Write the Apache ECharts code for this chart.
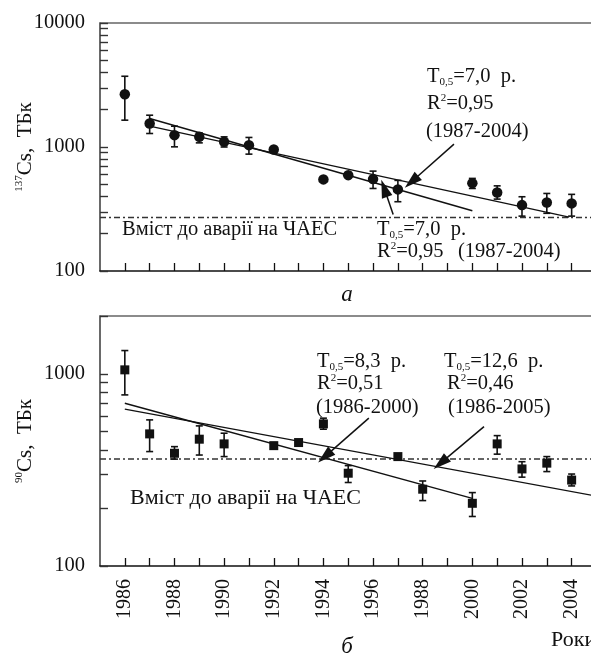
<!DOCTYPE html>
<html>
<head>
<meta charset="utf-8">
<script src="https://cdn.jsdelivr.net/npm/echarts@6/dist/echarts.min.js"></script>
<style>
  html, body { margin: 0; padding: 0; background: #fff; }
  #chart { width: 591px; height: 655px; }
</style>
</head>
<body>
<div id="chart"></div>
<script>
const FONT = '"Liberation Serif", "DejaVu Serif", serif'
const INK = '#111'

// --- 137Cs, TBq (panel a)
const csYears = [1986, 1987, 1988, 1989, 1990, 1991, 1992, 1994, 1995, 1996, 1997, 2000, 2001, 2002, 2003, 2004]
const csValues = [2665, 1549, 1246, 1207, 1100, 1035, 955, 548, 593, 551, 455, 511, 430, 340, 357, 351]
const csErrYears = [1986, 1987, 1988, 1989, 1990, 1991, 1996, 1997, 2000, 2001, 2002, 2003, 2004]
const csErrLow = [1646, 1285, 1003, 1080, 1000, 876, 463, 362, 463, 380, 277, 292, 277]
const csErrHigh = [3720, 1805, 1472, 1300, 1207, 1194, 639, 538, 558, 486, 397, 422, 415]
const csFitA = [[1987, 1698], [2000, 306]]
const csFitB = [[1987, 1472], [2003.9, 272]]
const csBefore = 270

// --- 90Sr (labelled Cs), TBq (panel b)
const srYears = [1986, 1987, 1988, 1989, 1990, 1992, 1993, 1994, 1995, 1997, 1998, 2000, 2001, 2002, 2003, 2004]
const srValues = [1049, 487, 386, 457, 432, 423, 439, 549, 304, 371, 251, 212, 432, 320, 343, 280]
const srErrYears = [1986, 1987, 1988, 1989, 1990, 1994, 1995, 1998, 2000, 2001, 2002, 2003, 2004]
const srErrLow = [777, 394, 360, 378, 371, 515, 272, 219, 181, 382, 290, 310, 261]
const srErrHigh = [1322, 576, 418, 536, 491, 588, 333, 277, 241, 477, 349, 371, 301]
const srFitA = [[1986, 703], [2000, 225]]
const srFitB = [[1986, 655], [2005, 231]]
const srBefore = 360

// axis ticks / labels
const yearTicks = [1986, 1987, 1988, 1989, 1990, 1991, 1992, 1993, 1994, 1995, 1996, 1997, 1998, 1999, 2000, 2001, 2002, 2003, 2004]
const yearLabelValues = [1986, 1988, 1990, 1992, 1994, 1996, 1998, 2000, 2002, 2004]
const yearLabelTexts = ['1986', '1988', '1990', '1992', '1994', '1996', '1988', '2000', '2002', '2004']
const csTicks = [100, 200, 300, 400, 500, 600, 700, 800, 900, 1000, 2000, 3000, 4000, 5000, 6000, 7000, 8000, 9000, 10000]
const csLabels = [100, 1000, 10000]
const srTicks = [100, 200, 300, 400, 500, 600, 700, 800, 900, 1000, 2000]
const srLabels = [100, 1000]

const X_MIN = 1985
const X_MAX = 2004.78

const zip = (xs, ys) => xs.map((x, i) => [x, ys[i]])
const zip3 = (xs, a, b) => xs.map((x, i) => [x, a[i], b[i]])

const arrowPath = 'path://M6,0L12,20L0,20Z'

function xAxisFor(gridIndex, withLabels) {
  return {
    type: 'value', gridIndex, min: X_MIN, max: X_MAX,
    axisLine: { show: true, lineStyle: { color: INK, width: 1.5 } },
    axisTick: { show: true, inside: true, length: 8, customValues: yearTicks, lineStyle: { color: INK, width: 1.3 } },
    axisLabel: withLabels ? {
      show: true, rotate: 90, margin: 13, customValues: yearLabelValues,
      fontFamily: FONT, fontSize: 20, color: INK,
      formatter: v => yearLabelTexts[yearLabelValues.indexOf(Math.round(v))] || ''
    } : { show: false },
    splitLine: { show: false }
  }
}

function topAxisFor(gridIndex) {
  return {
    type: 'value', gridIndex, position: 'top', min: X_MIN, max: X_MAX,
    axisLine: { show: true, lineStyle: { color: '#666', width: 1.5 } },
    axisTick: { show: false }, axisLabel: { show: false }, splitLine: { show: false }
  }
}

function yAxisFor(gridIndex, max, ticks, labels, sup) {
  return {
    type: 'log', logBase: 10, gridIndex, min: 100, max,
    name: '{sup|' + sup + '}{n|Cs,  ТБк}',
    nameLocation: 'middle', nameGap: 64, nameMoveOverlap: false,
    nameTextStyle: {
      rich: {
        sup: { fontFamily: FONT, fontSize: 11, color: INK, verticalAlign: 'top', lineHeight: 22 },
        n: { fontFamily: FONT, fontSize: 21, color: INK, lineHeight: 22 }
      }
    },
    axisLine: { show: true, lineStyle: { color: '#444', width: 1.6 } },
    axisTick: { show: true, inside: true, length: 8, customValues: ticks, lineStyle: { color: '#333', width: 1.4 } },
    axisLabel: {
      show: true, margin: 15, customValues: labels,
      fontFamily: FONT, fontSize: 20.5, color: INK,
      formatter: v => String(Math.round(v))
    },
    splitLine: { show: false }, minorTick: { show: false }
  }
}

function errorBars(xAxisIndex, yAxisIndex, data) {
  return {
    type: 'custom', xAxisIndex, yAxisIndex, data,
    encode: { x: 0, y: [1, 2] },
    z: 3,
    renderItem: (params, api) => {
      const x = api.value(0)
      const top = api.coord([x, api.value(2)])
      const bot = api.coord([x, api.value(1)])
      const w = 3.5
      const style = { stroke: INK, lineWidth: 1.6 }
      return {
        type: 'group',
        children: [
          { type: 'line', shape: { x1: top[0], y1: top[1], x2: bot[0], y2: bot[1] }, style },
          { type: 'line', shape: { x1: top[0] - w, y1: top[1], x2: top[0] + w, y2: top[1] }, style },
          { type: 'line', shape: { x1: bot[0] - w, y1: bot[1], x2: bot[0] + w, y2: bot[1] }, style }
        ]
      }
    }
  }
}

function fitLine(xAxisIndex, yAxisIndex, data, arrows) {
  const s = {
    type: 'line', xAxisIndex, yAxisIndex, data,
    symbol: 'none', silent: true, clip: true,
    lineStyle: { color: INK, width: 1.4 }, z: 2
  }
  if (arrows) {
    s.markLine = {
      silent: true, symbol: ['none', arrowPath],
      label: { show: false },
      lineStyle: { color: INK, width: 1.5, type: 'solid' },
      data: arrows.map(a => [{ coord: a[0] }, { coord: a[1], symbolSize: [11, 18] }])
    }
  }
  return s
}

function beforeLine(xAxisIndex, yAxisIndex, level) {
  return {
    type: 'line', xAxisIndex, yAxisIndex, data: [[X_MIN, level], [X_MAX, level]],
    symbol: 'none', silent: true,
    lineStyle: { color: '#333', width: 1.5, type: [6, 3, 2, 3] }, z: 1
  }
}

const richT = {
  t: { fontFamily: FONT, fontSize: 20.5, fill: INK, lineHeight: 22 },
  sub: { fontFamily: FONT, fontSize: 11, fill: INK, verticalAlign: 'bottom', lineHeight: 22 },
  sup: { fontFamily: FONT, fontSize: 11, fill: INK, verticalAlign: 'top', lineHeight: 20 },
  it: { fontFamily: FONT, fontSize: 23, fontStyle: 'italic', fill: INK, lineHeight: 22 },
  big: { fontFamily: FONT, fontSize: 22, fill: INK, lineHeight: 22 }
}

function txt(x, y, text, align) {
  return {
    type: 'text', x, y, silent: true,
    style: { text, rich: richT, align: align || 'left', verticalAlign: 'middle' }
  }
}

const chart = echarts.init(document.getElementById('chart'))

chart.setOption({
  backgroundColor: '#fff',
  animation: false,
  grid: [
    { left: 100, top: 23, width: 491, height: 248, containLabel: false, outerBoundsMode: 'none' },
    { left: 100, top: 316, width: 491, height: 250, containLabel: false, outerBoundsMode: 'none' }
  ],
  xAxis: [xAxisFor(0, false), topAxisFor(0), xAxisFor(1, true), topAxisFor(1)],
  yAxis: [
    yAxisFor(0, 10000, csTicks, csLabels, '137'),
    yAxisFor(1, 2000, srTicks, srLabels, '90')
  ],
  series: [
    beforeLine(0, 0, csBefore),
    fitLine(0, 0, csFitA, [
      [[1996.81, 286], [1996.45, 464]]
    ]),
    fitLine(0, 0, csFitB, [
      [[1999.26, 1054], [1997.55, 524]]
    ]),
    errorBars(0, 0, zip3(csErrYears, csErrLow, csErrHigh)),
    {
      type: 'scatter', xAxisIndex: 0, yAxisIndex: 0, data: zip(csYears, csValues),
      symbol: 'circle', symbolSize: 10.5, itemStyle: { color: INK, opacity: 1 }, z: 4
    },

    beforeLine(2, 1, srBefore),
    fitLine(2, 1, srFitA, [
      [[1995.83, 588], [1994.06, 371]]
    ]),
    fitLine(2, 1, srFitB, [
      [[2000.47, 531], [1998.72, 343]]
    ]),
    errorBars(2, 1, zip3(srErrYears, srErrLow, srErrHigh)),
    {
      type: 'scatter', xAxisIndex: 2, yAxisIndex: 1, data: zip(srYears, srValues),
      symbol: 'rect', symbolSize: 9, itemStyle: { color: INK, opacity: 1 }, z: 4
    }
  ],
  graphic: [
    // panel a
    txt(427, 77, '{t|T}{sub|0,5}{t|=7,0  р.}'),
    txt(427, 104, '{t|R}{sup|2}{t|=0,95}'),
    txt(426, 132, '{t|(1987-2004)}'),
    txt(377, 230, '{t|T}{sub|0,5}{t|=7,0  р.}'),
    txt(377, 252, '{t|R}{sup|2}{t|=0,95}'),
    txt(458, 252, '{t|(1987-2004)}'),
    txt(122, 230, '{t|Вміст до аварії на ЧАЕС}'),
    txt(347, 295, '{it|а}', 'center'),
    // panel b
    txt(317, 362, '{t|T}{sub|0,5}{t|=8,3  р.}'),
    txt(317, 384, '{t|R}{sup|2}{t|=0,51}'),
    txt(316, 408, '{t|(1986-2000)}'),
    txt(444, 362, '{t|T}{sub|0,5}{t|=12,6  р.}'),
    txt(447, 384, '{t|R}{sup|2}{t|=0,46}'),
    txt(448, 408, '{t|(1986-2005)}'),
    txt(130, 498, '{big|Вміст до аварії на ЧАЕС}'),
    txt(347, 647, '{it|б}', 'center'),
    txt(551, 640, '{big|Роки}')
  ]
})
</script>
</body>
</html>
